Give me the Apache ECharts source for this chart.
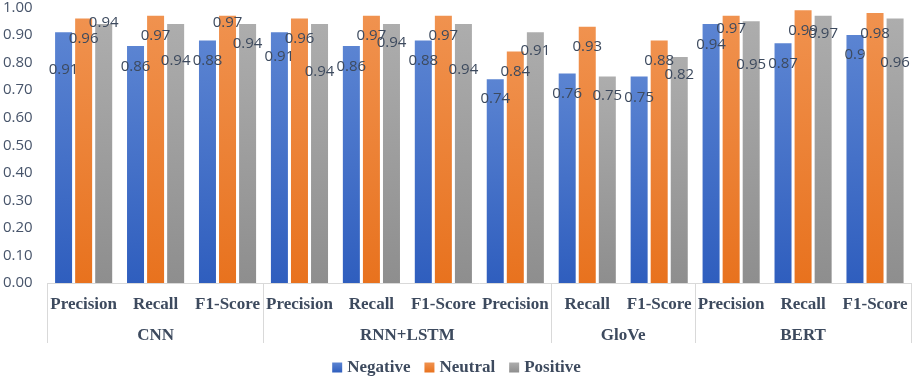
<!DOCTYPE html>
<html>
<head>
<meta charset="utf-8">
<script src="https://cdn.jsdelivr.net/npm/echarts@6/dist/echarts.min.js"></script>
<style>
  html, body { margin: 0; padding: 0; background: #fff; }
  #chart { width: 913px; height: 378px; }
</style>
</head>
<body>
<div id="chart"></div>
<script>
const metrics = ['Precision', 'Recall', 'F1-Score', 'Precision', 'Recall', 'F1-Score',
                 'Precision', 'Recall', 'F1-Score', 'Precision', 'Recall', 'F1-Score'];
const models = ['CNN', 'RNN+LSTM', 'GloVe', 'BERT'];
const modelBounds = [0, 3, 7, 9, 12]; // category index where each model group starts/ends

const negative = [0.91, 0.86, 0.88, 0.91, 0.86, 0.88, 0.74, 0.76, 0.75, 0.94, 0.87, 0.9];
const neutral  = [0.96, 0.97, 0.97, 0.96, 0.97, 0.97, 0.84, 0.93, 0.88, 0.97, 0.99, 0.98];
const positive = [0.94, 0.94, 0.94, 0.94, 0.94, 0.94, 0.91, 0.75, 0.82, 0.95, 0.97, 0.96];

// label drop below the bar top, px (labels were hand-placed in the original)
const dropNeg = [37, 21, 20, 24, 21, 20, 20, 20, 21, 21, 20, 20];
const dropNeu = [20, 20, 7, 20, 20, 20, 20, 20, 20, 13, 20, 21];
const dropPos = [-1, 37, 20, 48, 19, 46, 18, 19, 18, 43, 18, 44];

const serif = '"Liberation Serif", "DejaVu Serif", serif';
const sans = '"Open Sans", "Liberation Sans", sans-serif';
const textColor = '#3d4a5e';

function grad(top, bottom) {
    return new echarts.graphic.LinearGradient(0, 0, 0, 1, [
        { offset: 0, color: top },
        { offset: 1, color: bottom }
    ]);
}

function makeSeries(name, values, drops, top, bottom) {
    return {
        name: name,
        type: 'bar',
        barWidth: 17,
        barGap: '18%',
        itemStyle: { color: grad(top, bottom) },
        data: values.map((v, i) => ({
            value: v,
            label: { position: ['50%', drops[i]] }
        })),
        label: {
            show: true,
            align: 'center',
            verticalAlign: 'middle',
            color: textColor,
            fontFamily: sans,
            fontSize: 15,
            formatter: p => String(p.value)
        }
    };
}

const chart = echarts.init(document.getElementById('chart'), null, { renderer: 'canvas' });

const groupCenters = models.map((m, i) => (modelBounds[i] + modelBounds[i + 1]) / 2);

chart.setOption({
    backgroundColor: '#fff',
    animation: false,
    grid: { left: 45, right: 2, top: 6, bottom: 95 },
    legend: {
        top: 354,
        left: 'center',
        icon: 'rect',
        itemWidth: 10,
        itemHeight: 10,
        itemGap: 14,
        textStyle: { fontFamily: serif, fontWeight: 'bold', fontSize: 17, color: textColor },
        data: ['Negative', 'Neutral', 'Positive']
    },
    xAxis: [
        {
            type: 'category',
            data: metrics,
            axisLine: { lineStyle: { color: '#d9d9d9', width: 1 } },
            axisTick: { show: false },
            axisLabel: {
                interval: 0,
                margin: 13,
                fontFamily: serif,
                fontWeight: 'bold',
                fontSize: 17,
                color: textColor
            }
        },
        {
            type: 'value',
            position: 'bottom',
            min: 0,
            max: 12,
            axisLine: { show: false },
            splitLine: { show: false },
            axisTick: {
                show: true,
                length: 60,
                customValues: modelBounds,
                lineStyle: { color: '#d9d9d9', width: 1 }
            },
            axisLabel: {
                customValues: groupCenters,
                margin: 44,
                fontFamily: serif,
                fontWeight: 'bold',
                fontSize: 17,
                color: textColor,
                formatter: v => models[groupCenters.indexOf(v)] || ''
            }
        }
    ],
    yAxis: {
        type: 'value',
        min: 0,
        max: 1,
        interval: 0.1,
        axisLine: { show: false },
        axisTick: { show: false },
        splitLine: { show: false },
        axisLabel: {
            margin: 15,
            fontFamily: sans,
            fontSize: 15,
            color: '#47546a',
            formatter: v => v.toFixed(2)
        }
    },
    series: [
        makeSeries('Negative', negative, dropNeg, '#5b84d2', '#2f5ebe'),
        makeSeries('Neutral', neutral, dropNeu, '#f0924f', '#e8721e'),
        makeSeries('Positive', positive, dropPos, '#adadad', '#8e8e8e')
    ]
});
</script>
</body>
</html>
